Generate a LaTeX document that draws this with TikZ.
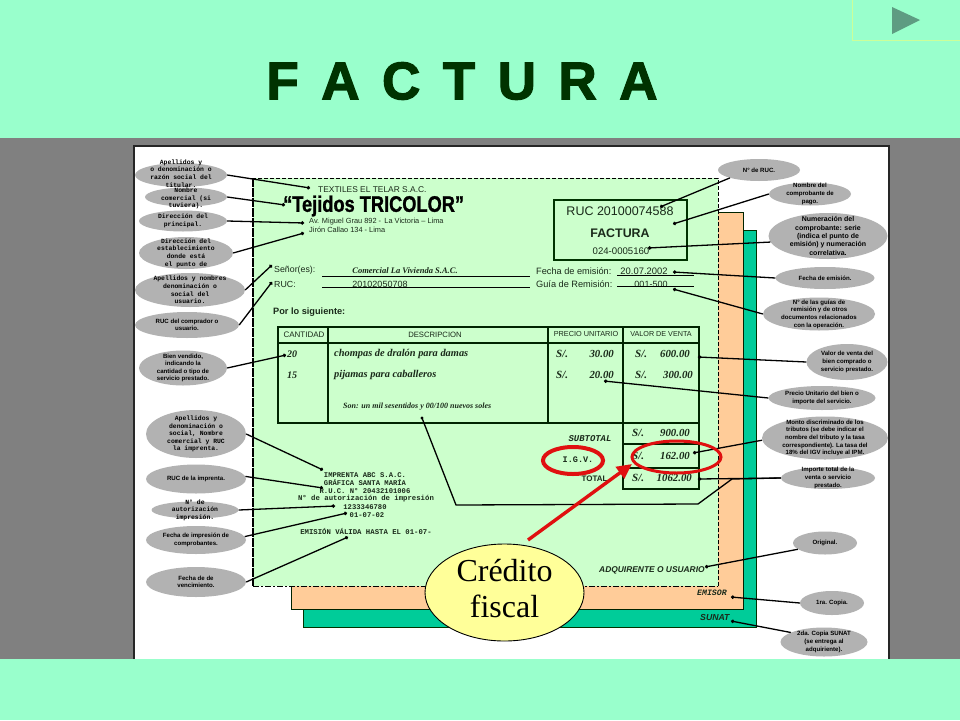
\documentclass[tikz,border=0pt]{standalone}
\usepackage{fontspec}
\setmainfont{Liberation Sans}
\newfontfamily\tiserif{Liberation Serif}
\newfontfamily\timono{Liberation Mono}
\newfontfamily\heavyfont{Liberation Sans Bold}[FakeBold=2.2]
\newfontfamily\boldish{Liberation Sans Bold}[FakeBold=1.2]
\usetikzlibrary{shapes.geometric,arrows.meta}
\definecolor{mint}{HTML}{99FFCC}
\definecolor{band}{HTML}{808080}
\definecolor{sheetg}{HTML}{CCFFCC}
\definecolor{sheeto}{HTML}{FFCC99}
\definecolor{sheett}{HTML}{00CC99}
\definecolor{bub}{HTML}{B2B2B2}
\definecolor{ttl}{HTML}{003300}
\definecolor{ink}{HTML}{1A2A1A}
\definecolor{btnline}{HTML}{CCFF99}
\definecolor{btntri}{HTML}{5E9C82}
\definecolor{redmark}{HTML}{E01010}
\definecolor{callout}{HTML}{FFFF99}
\newcommand{\fsz}[1]{\fontsize{#1}{#1}\selectfont}
\newcommand{\bubble}[8][0pt]{%
  \node[bubshape,minimum width=#5pt,minimum height=#6pt] (#2) at (#3,#4) {};
  \node[bubtext,font=#7,yshift=#1] (#2t) at (#3,#4) {#8};}
\tikzset{
  x=1pt,y=-1pt,
  bubshape/.style={ellipse,fill=bub,draw=none,inner sep=0pt},
  bubtext/.style={align=center,inner sep=0pt,text=black},
  lead/.style={line width=1.3pt,black,-{Circle[length=3.4pt]}},
  leadplain/.style={line width=1.3pt,black},
  rule/.style={line width=1.1pt,black},
  tbl/.style={line width=1.2pt,ttl!70!black},
  txt/.style={inner sep=0pt,text=ink},
  lefttxt/.style={txt,anchor=west},
  righttxt/.style={txt,anchor=east},
  redring/.style={ellipse,draw=redmark,line width=3pt,inner sep=0pt},
}
\newcommand{\bubM}{\timono\bfseries\fontsize{6.4}{7.6}\selectfont}
\newcommand{\bubS}{\bfseries\fontsize{6.1}{7.6}\selectfont}
\newcommand{\bubL}{\bfseries\fontsize{7}{8.3}\selectfont}
\newcommand{\crs}{\tiserif\bfseries\itshape}
\begin{document}
\begin{tikzpicture}
\useasboundingbox (0,0) rectangle (960,720);
% background
\fill[mint] (0,0) rectangle (960,720);
\fill[band] (0,138) rectangle (960,659);
\fill[white] (134,146) rectangle (889,659);
\draw[line width=1.5pt,black!85] (134,659) -- (134,146) -- (889,146) -- (889,659);
% title and button
\node[font=\heavyfont\fsz{53},text=ttl,inner sep=0pt] (title) at (462,81) {\spaceskip=22.5pt F A C T U R A};
\draw[draw=btnline,line width=.8pt,fill=mint] (852,-1) rectangle (961,40);
\fill[btntri] (892,7) -- (920,20) -- (892,34) -- cycle;
% sheets
\fill[sheett] (303,230) rectangle (756,627);
\draw[line width=1pt,ttl] (303,627) -- (303,610) (303,627) -- (756,627) -- (756,230) -- (743,230);
\fill[sheeto] (291,212) rectangle (743,609);
\draw[line width=1pt,ttl!70!black] (291,586) -- (291,609) -- (743,609) -- (743,212) -- (718,212);
\fill[sheetg] (253,178) rectangle (718,586);
\draw[line width=.9pt,black,dashed,dash pattern=on 4pt off 2pt] (718,586) -- (718,178) -- (253,178);
\draw[line width=.9pt,black,dashed,dash pattern=on 6pt off 2pt on 2pt off 2pt] (253,586) -- (718,586);
\draw[line width=1.8pt,black,dash pattern=on 9pt off 1pt] (253,178) -- (253,586);
% heading of invoice
\node[lefttxt,font=\fsz{8.4}] (emp) at (318,190) {TEXTILES EL TELAR S.A.C.};
\node[lefttxt,font=\boldish\fsz{22.5},text=black,xscale=.81] (marca) at (283,206) {“Tejidos TRICOLOR”};
\node[lefttxt,font=\fsz{7.4}] (dir1) at (309,222) {Av. Miguel Grau 892 -\, La Victoria -- Lima};
\node[lefttxt,font=\fsz{7.4}] (dir2) at (309,230) {Jirón Callao 134 - Lima};
% RUC box
\node[draw=ttl,line width=1.2pt,minimum width=133pt,minimum height=60pt,inner sep=0pt] (rucbox) at (620.5,230) {};
\node[txt,font=\fsz{12.5}] (ruc) at (620,211) {RUC 20100074588};
\node[txt,font=\bfseries\fsz{12.4}] (fac) at (620,233) {FACTURA};
\node[txt,font=\fsz{9.6}] (num) at (621,251) {024-0005160};
% customer
\node[lefttxt,font=\fsz{8.8}] (se) at (274,270) {Señor(es):};
\node[lefttxt,font=\fsz{8.8}] (rc) at (274,284) {RUC:};
\node[txt,font=\crs\fsz{8.5}] (cli) at (405,270.5) {Comercial La Vivienda S.A.C.};
\node[txt,font=\fsz{9}] (rcn) at (380,284) {20102050708};
\coordinate (u1a) at (322,276); \coordinate (u1b) at (530,276);
\coordinate (u2a) at (322,287); \coordinate (u2b) at (530,287);
\draw[rule,line width=.9pt] (u1a) -- (u1b) (u2a) -- (u2b);
\node[lefttxt,font=\fsz{9.2}] (fe) at (536,271) {Fecha de emisión:};
\node[lefttxt,font=\fsz{9.2}] (gr) at (536,284) {Guía de Remisión:};
\node[txt,font=\fsz{9.4}] (fev) at (644,271) {20.07.2002};
\node[txt,font=\fsz{9}] (grv) at (651,284) {001-500};
\coordinate (u3a) at (617,275); \coordinate (u3b) at (694,275);
\coordinate (u4a) at (617,286); \coordinate (u4b) at (694,286);
\draw[rule,line width=.9pt] (u3a) -- (u3b) (u4a) -- (u4b);
\node[lefttxt,font=\bfseries\fsz{9.2}] (pls) at (273,312) {Por lo siguiente:};
% table
\draw[tbl] (278,327) rectangle (699,423);
\draw[tbl] (278,343) -- (699,343);
\draw[tbl] (328,327) -- (328,423) (548,327) -- (548,423) (623,327) -- (623,489) -- (699,489) -- (699,423);
\draw[tbl] (623,468) -- (699,468);
\draw[tbl,line width=1.8pt] (623,444) -- (699,444);
\node[txt,font=\fsz{8}] (h1) at (304,334.5) {CANTIDAD};
\node[txt,font=\fsz{7.7}] (h2) at (435,335) {DESCRIPCION};
\node[txt,font=\fsz{7.3}] (h3) at (586,334) {PRECIO UNITARIO};
\node[txt,font=\fsz{7.2}] (h4) at (661,334) {VALOR DE VENTA};
\node[lefttxt,font=\crs\fsz{10}] (q1) at (287,354) {20};
\node[lefttxt,font=\crs\fsz{10}] (q2) at (287,375) {15};
\node[lefttxt,font=\crs\fsz{10.4}] (d1) at (334,354) {chompas de dralón para damas};
\node[lefttxt,font=\crs\fsz{10.4}] (d2) at (334,375) {pijamas para caballeros};
\node[lefttxt,font=\crs\fsz{8}] (son) at (343,407) {Son: un mil sesentidos y 00/100 nuevos soles};
\node[lefttxt,font=\crs\fsz{11}] (s1) at (556,354) {S/.};
\node[lefttxt,font=\crs\fsz{11}] (s2) at (556,375) {S/.};
\node[lefttxt,font=\crs\fsz{11}] (s3) at (635,354) {S/.};
\node[lefttxt,font=\crs\fsz{11}] (s4) at (635,375) {S/.};
\node[lefttxt,font=\crs\fsz{11}] (s5) at (632,433) {S/.};
\node[lefttxt,font=\crs\fsz{11}] (s6) at (632,456) {S/.};
\node[lefttxt,font=\crs\fsz{11}] (s7) at (632,478) {S/.};
\node[righttxt,font=\crs\fsz{10.8}] (v1) at (614,354) {30.00};
\node[righttxt,font=\crs\fsz{10.8}] (v2) at (614,375) {20.00};
\node[righttxt,font=\crs\fsz{10.8}] (v3) at (690,354) {600.00};
\node[righttxt,font=\crs\fsz{10.8}] (v4) at (693,375) {300.00};
\node[righttxt,font=\crs\fsz{10.8}] (v5) at (690,433) {900.00};
\node[righttxt,font=\crs\fsz{10.8}] (v6) at (690,456) {162.00};
\node[righttxt,font=\crs\fsz{10.8}] (v7) at (692,478) {1062.00};
\node[txt,font=\timono\bfseries\itshape\fsz{8.9}] (sub) at (590,439) {SUBTOTAL};
\node[txt,font=\timono\bfseries\fsz{8.5}] (igv) at (578,460) {I.G.V.};
\node[txt,font=\bfseries\fsz{8}] (tot) at (594.5,479) {TOTAL};
% printer
\node[txt,font=\timono\bfseries\fsz{7.2}] (i1) at (365,475) {IMPRENTA ABC S.A.C.};
\node[txt,font=\timono\bfseries\fsz{7.2}] (i2) at (365,483) {GRÁFICA SANTA MARÍA};
\node[txt,font=\timono\bfseries\fsz{7.2}] (i3) at (365,491) {R.U.C. N° 20432101006};
\node[txt,font=\timono\bfseries\fsz{7.3}] (i4) at (366,499) {N° de autorización de impresión};
\node[txt,font=\timono\bfseries\fsz{7.2}] (i5) at (365,507) {1233346780};
\node[txt,font=\timono\bfseries\fsz{7.2}] (i6) at (367,515) {01-07-02};
\node[txt,font=\timono\bfseries\fsz{7.3}] (i7) at (366,531) {EMISIÓN VÁLIDA HASTA EL 01-07-};
% copies
\node[lefttxt,font=\bfseries\itshape\fsz{8.4}] (c1) at (599,570) {ADQUIRENTE O USUARIO};
\node[lefttxt,font=\timono\bfseries\itshape\fsz{8.2}] (c2) at (697,593) {EMISOR};
\node[lefttxt,font=\bfseries\itshape\fsz{8.7}] (c3) at (700,617) {SUNAT};
% left bubbles
\bubble[1.5pt]{La}{181}{175}{92}{24}{\bubM}{Apellidos y\\o denominación o\\razón social del\\titular.}
\bubble[-1.5pt]{Lb}{186}{197}{82}{19}{\bubM}{Nombre\\comercial (si\\tuviera).}
\bubble{Lc}{183}{221}{88}{21}{\bubM}{Dirección del\\principal.}
\bubble{Ld}{186}{253}{94}{32}{\bubM}{Dirección del\\establecimiento\\donde está\\el punto de}
\bubble{Le}{190}{290}{110}{34}{\bubM}{Apellidos y nombres\\denominación o\\social del\\usuario.}
\bubble{Lf}{187}{325}{104}{26}{\bubS}{RUC del comprador o\\usuario.}
\bubble{Lg}{183}{368}{88}{35}{\bubS}{Bien vendido,\\indicando la\\cantidad o tipo de\\servicio prestado.}
\bubble{Lh}{196}{434}{100}{48}{\bubM}{Apellidos y\\denominación o\\social, Nombre\\comercial y RUC\\la imprenta.}
\bubble{Li}{196}{479}{100}{29}{\bubS}{RUC de la imprenta.}
\bubble{Lj}{195}{510}{87}{17}{\bubM}{N° de\\autorización\\impresión.}
\bubble{Lk}{196}{540}{100}{28}{\bubS}{Fecha de impresión de\\comprobantes.}
\bubble{Ll}{196}{582}{100}{30}{\bubS}{Fecha de de\\vencimiento.}
% right bubbles
\bubble{Ra}{759}{170}{82}{22}{\bubS}{N° de RUC.}
\bubble{Rb}{810}{194}{82}{23}{\bubS}{Nombre del\\comprobante de\\pago.}
\bubble{Rc}{828}{236}{119}{46}{\bubL}{Numeración del\\comprobante: serie\\(indica el punto de\\emisión) y numeración\\correlativa.}
\bubble{Rd}{825}{278}{99}{22}{\bubS}{Fecha de emisión.}
\bubble{Re}{819}{314}{112}{33}{\bubS}{N° de las guías de\\remisión y de otros\\documentos relacionados\\con la operación.}
\bubble{Rf}{847}{362}{81}{36}{\bubS}{Valor de venta del\\bien comprado o\\servicio prestado.}
\bubble{Rg}{822}{398}{107}{24}{\bubS}{Precio Unitario del bien o\\importe del servicio.}
\bubble{Rh}{825}{438}{126}{43}{\bubS}{Monto discriminado de los\\tributos (se debe indicar el\\nombre del tributo y la tasa\\correspondiente). La tasa del\\18\% del IGV incluye al IPM.}
\bubble{Ri}{828}{478}{94}{22}{\bubS}{Importe total de la\\venta o servicio\\prestado.}
\bubble{Rj}{825}{543}{64}{23}{\bubS}{Original.}
\bubble{Rk}{832}{603}{64}{24}{\bubS}{1ra. Copia.}
\bubble{Rl}{824}{642}{87}{29}{\bubS}{2da. Copia SUNAT\\(se entrega al\\adquiriente).}
% connector ends
\coordinate (ea) at (310,188); \coordinate (eb) at (285,205);
\coordinate (ec) at (304,223); \coordinate (ed) at (304,233);
\coordinate (ee) at (272,265); \coordinate (ef) at (272,282);
\coordinate (eg) at (286,355); \coordinate (eh) at (323,470);
\coordinate (ei) at (323,488); \coordinate (ej) at (335,506);
\coordinate (ek) at (347,513); \coordinate (el) at (348,537);
\coordinate (fa) at (660,207); \coordinate (fb) at (673,224);
\coordinate (fc) at (648,248); \coordinate (fd) at (673,272);
\coordinate (fe2) at (673,289); \coordinate (ff) at (698,357);
\coordinate (fg) at (604,381); \coordinate (fh) at (693,453);
\coordinate (fi) at (698,479); \coordinate (fj) at (705,567);
\coordinate (fk) at (731,597); \coordinate (fl) at (731,621);
\coordinate (son1) at (422,418); \coordinate (son2) at (456,505);
\coordinate (son3) at (698,504); \coordinate (son4) at (732,479);
% connectors
\draw[lead] (La.east) -- (ea);
\draw[lead] (Lb.east) -- (eb);
\draw[lead] (Lc.east) -- (ec);
\draw[lead] (Ld.east) -- (ed);
\draw[lead] (Le.east) -- (ee);
\draw[lead] (Lf.east) -- (ef);
\draw[lead] (Lg.east) -- (eg);
\draw[lead] (Lh.east) -- (eh);
\draw[lead] (Li.3) -- (ei);
\draw[lead] (Lj.east) -- (ej);
\draw[lead] (Lk.4) -- (ek);
\draw[lead] (Ll.east) -- (el);
\draw[lead] (Ra.south west) -- (fa);
\draw[lead] (Rb.west) -- (fb);
\draw[lead] (Rc.-174) -- (fc);
\draw[lead] (Rd.west) -- (fd);
\draw[lead] (Re.west) -- (fe2);
\draw[lead] (Rf.west) -- (ff);
\draw[lead] (Rg.west) -- (fg);
\draw[lead] (Rh.-178) -- (fh);
\draw[lead] (Ri.west) -- (fi);
\draw[lead] (Rj.-167) -- (fj);
\draw[lead] (Rk.west) -- (fk);
\draw[lead] (Rl.164) -- (fl);
\draw[leadplain] (Ri.west) -- (son4) -- (son3) -- (son2) -- (son1);
\fill[black] (son1) circle (1.7pt);
% highlights
\node[redring,line width=4pt,minimum width=60pt,minimum height=27pt] (mk1) at (573,460.5) {};
\node[redring,minimum width=89pt,minimum height=32pt] (mk2) at (676.5,457) {};
% fiscal credit callout
\node[ellipse,draw=black,line width=.9pt,fill=callout,minimum width=159pt,minimum height=97pt,inner sep=0pt] (cf) at (504.5,592.5) {};
\node[align=center,inner sep=0pt,font=\tiserif\fontsize{32}{36}\selectfont] (cftext) at (504.5,589) {Crédito\\fiscal};
\coordinate (astart) at (528,540);
\coordinate (tip) at (632,464);
\draw[-{Triangle[length=15pt,width=14pt]},line width=3.4pt,redmark] (astart) -- (tip);
\end{tikzpicture}
\end{document}
